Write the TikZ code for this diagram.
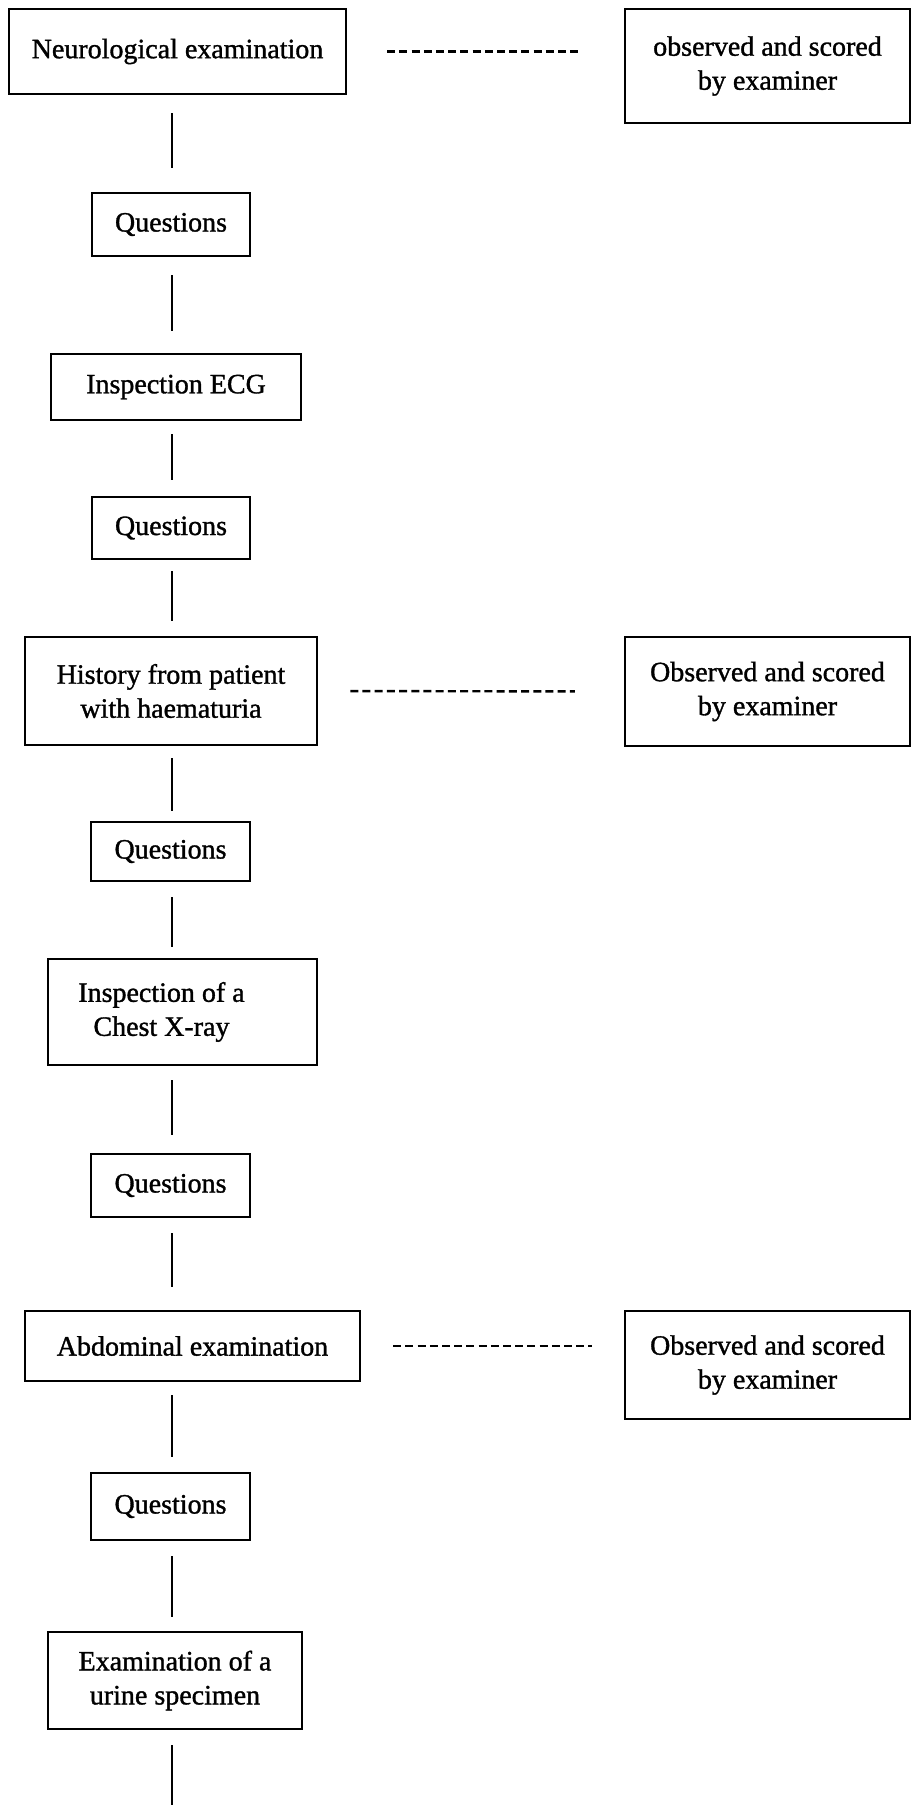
\documentclass[tikz,border=0pt]{standalone}
\usepackage{fontspec}
\setmainfont{Liberation Serif}
\newfontfamily\boxfont{Liberation Serif}[FakeBold=1.2]
\begin{document}
\begin{tikzpicture}[x=1pt,y=-1pt,
  box/.style={draw, line width=2.5pt, inner sep=0pt, align=center,
    font=\boxfont\fontsize{28}{34}\selectfont},
  link/.style={line width=2.4pt},
  dots/.style={line width=2.4pt, dash pattern=on 8pt off 4.2pt}]
\useasboundingbox (0,0) rectangle (911,1805);
\begin{scope}
\clip (0,0) rectangle (911,1805);
% left column of stations
\node[box, minimum width=337pt, minimum height=85pt] (neuro) at (177.5,51.5) {Neurological examination};
\node[box, minimum width=158pt, minimum height=63pt] (q1) at (171,224.5) {Questions};
\node[box, minimum width=250pt, minimum height=66pt] (ecg) at (176,387) {Inspection ECG};
\node[box, minimum width=158pt, minimum height=62pt] (q2) at (171,528) {Questions};
\node[box, minimum width=292pt, minimum height=108pt] (hist) at (171,691) {History from patient\\with haematuria};
\node[box, minimum width=159pt, minimum height=59pt] (q3) at (170.5,851.5) {Questions};
\node[box, minimum width=269pt, minimum height=106pt] (chest) at (182.5,1012) {\kern-42pt\begin{tabular}{@{}c@{}}Inspection of a\\Chest X-ray\end{tabular}};
\node[box, minimum width=159pt, minimum height=63pt] (q4) at (170.5,1185.5) {Questions};
\node[box, minimum width=335pt, minimum height=70pt] (abd) at (192.5,1346) {Abdominal examination};
\node[box, minimum width=159pt, minimum height=67pt] (q5) at (170.5,1506.5) {Questions};
\node[box, minimum width=254pt, minimum height=97pt] (urine) at (175,1680.5) {Examination of a\\urine specimen};
% right column: examiner boxes
\node[box, minimum width=285pt, minimum height=114pt] (obs1) at (767.5,66) {observed and scored\\by examiner};
\node[box, minimum width=285pt, minimum height=109pt] (obs2) at (767.5,691.5) {Observed and scored\\by examiner};
\node[box, minimum width=285pt, minimum height=108pt] (obs3) at (767.5,1365) {Observed and scored\\by examiner};
% spine of the vertical connectors
\coordinate (spine) at (172,0);
\coordinate (tail) at (172,1805);
\draw[link, shorten <=18pt, shorten >=24pt] (neuro.south -| spine) -- (q1.north -| spine);
\draw[link, shorten <=18pt, shorten >=22pt] (q1.south -| spine) -- (ecg.north -| spine);
\draw[link, shorten <=13pt, shorten >=16pt] (ecg.south -| spine) -- (q2.north -| spine);
\draw[link, shorten <=11pt, shorten >=15pt] (q2.south -| spine) -- (hist.north -| spine);
\draw[link, shorten <=12pt, shorten >=10pt] (hist.south -| spine) -- (q3.north -| spine);
\draw[link, shorten <=15pt, shorten >=11pt] (q3.south -| spine) -- (chest.north -| spine);
\draw[link, shorten <=14pt, shorten >=18pt] (chest.south -| spine) -- (q4.north -| spine);
\draw[link, shorten <=15pt, shorten >=23pt] (q4.south -| spine) -- (abd.north -| spine);
\draw[link, shorten <=13pt, shorten >=15pt] (abd.south -| spine) -- (q5.north -| spine);
\draw[link, shorten <=15pt, shorten >=14pt] (q5.south -| spine) -- (urine.north -| spine);
\draw[link, shorten <=15pt] (urine.south -| spine) -- (tail);
% dashed links to the examiner boxes
\draw[dots, shorten <=40pt, shorten >=43pt] (neuro.east) -- (neuro.east -| obs1.west);
\draw[dots, shorten <=32pt, shorten >=49pt] (hist.east) -- (obs2.west);
\draw[dots, shorten <=32pt, shorten >=32pt] (abd.east) -- (abd.east -| obs3.west);
\end{scope}
\end{tikzpicture}
\end{document}
